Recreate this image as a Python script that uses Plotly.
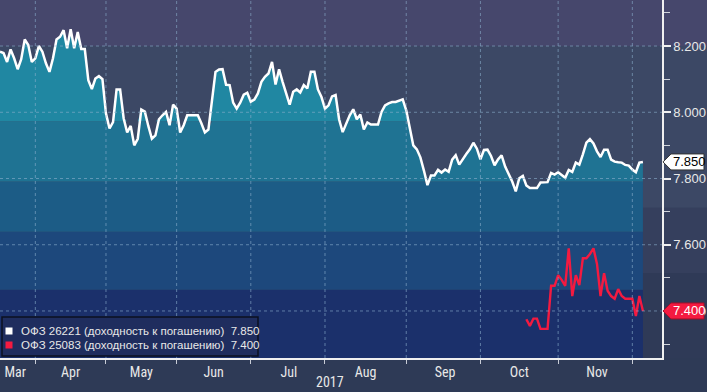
import plotly.graph_objects as go

# ---------------- data ----------------
# OFZ 26221 yield, one value per trading day (index 0 = mid-March 2017)
ofz26221 = [
    8.183, 8.179, 8.152, 8.190, 8.163, 8.130, 8.160, 8.220, 8.203, 8.152,
    8.163, 8.200, 8.183, 8.148, 8.122, 8.163, 8.220, 8.228, 8.248, 8.193,
    8.251, 8.193, 8.242, 8.191, 8.191, 8.097, 8.070, 8.102, 8.109, 8.100,
    7.996, 7.951, 7.970, 8.069, 8.069, 7.982, 7.939, 7.959, 7.900, 7.920,
    8.008, 8.002, 7.958, 7.920, 7.930, 7.979, 7.991, 8.001, 7.961, 8.023,
    8.011, 7.939, 7.961, 7.991, 7.991, 7.991, 7.991, 7.967, 7.939, 7.948,
    8.033, 8.122, 8.129, 8.130, 8.083, 8.082, 8.029, 8.011, 8.029, 8.053,
    8.059, 8.032, 8.038, 8.057, 8.092, 8.107, 8.117, 8.152, 8.084, 8.130,
    8.092, 8.057, 8.023, 8.062, 8.069, 8.060, 8.082, 8.072, 8.122, 8.122,
    8.069, 8.046, 8.011, 8.021, 8.048, 8.052, 7.978, 7.940, 7.966, 7.991,
    8.009, 7.979, 7.993, 7.948, 7.969, 7.963, 7.963, 7.963, 8.001, 8.021,
    8.027, 8.031, 8.031, 8.035, 8.039, 8.006, 7.955, 7.900, 7.888, 7.864,
    7.824, 7.780, 7.809, 7.809, 7.826, 7.818, 7.827, 7.820, 7.857, 7.870,
    7.842, 7.859, 7.874, 7.888, 7.908, 7.890, 7.858, 7.886, 7.887, 7.868,
    7.840, 7.858, 7.870, 7.836, 7.812, 7.791, 7.761, 7.801, 7.808, 7.779,
    7.771, 7.771, 7.771, 7.788, 7.789, 7.789, 7.817, 7.812, 7.819, 7.811,
    7.802, 7.826, 7.820, 7.848, 7.842, 7.873, 7.908, 7.919, 7.906, 7.882,
    7.865, 7.887, 7.887, 7.857, 7.851, 7.849, 7.848, 7.841, 7.839, 7.827,
    7.819, 7.848, 7.850,
]
# OFZ 25083 yield, starts at trading day index 149 (October)
ofz25083_start = 149
ofz25083 = [
    7.375, 7.355, 7.377, 7.377, 7.346, 7.346, 7.346, 7.476, 7.476, 7.508,
    7.494, 7.476, 7.589, 7.445, 7.508, 7.478, 7.559, 7.559, 7.572, 7.589,
    7.542, 7.445, 7.514, 7.461, 7.445, 7.437, 7.466, 7.445, 7.437, 7.437,
    7.437, 7.385, 7.445, 7.400,
]

series_names = ["ОФЗ 26221 (доходность к погашению)", "ОФЗ 25083 (доходность к погашению)"]
last_labels = ["7.850", "7.400"]

month_labels = ["Mar", "Apr", "May", "Jun", "Jul", "Aug", "Sep", "Oct", "Nov"]
month_label_pos = [4.3, 20, 40, 60.5, 81.8, 103.5, 126, 147, 169]
month_bounds = [10, 30, 50, 71, 92, 115, 136, 158, 179]
year_label = "2017"

y_ticks = [7.4, 7.6, 7.8, 8.0, 8.2]
y_tick_text = ["7.400", "7.600", "7.800", "8.000", "8.200"]
y_minor = [7.3, 7.5, 7.7, 7.9, 8.1, 8.3]
y_range = [7.258, 8.339]
x_range = [0, 187.4]

# colour bands of the area fill (value edges) and of the background
fill_edges = [7.20, 7.464, 7.639, 7.791, 7.973, 8.40]
fill_colors = ["#1b306b", "#1d487c", "#1c5c86", "#1f7393", "#2087a2"]
bg_edges = [7.0, 7.515, 7.712, 8.2, 8.6]
bg_colors = ["#2f3a57", "#353f5d", "#3c4865", "#46476c"]

WHITE = "#ffffff"
RED = "#f41a40"

# ---------------- figure ----------------
fig = go.Figure()
xs = list(range(len(ofz26221)))

for lo, hi, col in zip(fill_edges[:-1], fill_edges[1:], fill_colors):
    fig.add_trace(go.Scatter(x=xs, y=[lo] * len(xs), mode="lines",
                             line=dict(width=0), hoverinfo="skip", showlegend=False))
    fig.add_trace(go.Scatter(x=xs, y=[min(max(v, lo), hi) for v in ofz26221],
                             mode="lines", line=dict(width=0), fill="tonexty",
                             fillcolor=col, hoverinfo="skip", showlegend=False))

fig.add_trace(go.Scatter(x=xs, y=ofz26221, mode="lines",
                         line=dict(color=WHITE, width=2.5), showlegend=False,
                         name=series_names[0]))
xr = list(range(ofz25083_start, ofz25083_start + len(ofz25083)))
fig.add_trace(go.Scatter(x=xr, y=ofz25083, mode="lines",
                         line=dict(color=RED, width=2.4), showlegend=False,
                         name=series_names[1]))

shapes = []
# background bands
for lo, hi, col in zip(bg_edges[:-1], bg_edges[1:], bg_colors):
    shapes.append(dict(type="rect", xref="paper", yref="y", x0=0, x1=1.08, y0=lo, y1=hi,
                       fillcolor=col, line=dict(width=0), layer="below"))
# dotted grid lines (above the fill)
grid_col = "rgba(140,175,205,0.6)"
for v in y_ticks:
    shapes.append(dict(type="line", xref="paper", yref="y", x0=0, x1=1, y0=v, y1=v,
                       line=dict(color=grid_col, width=1, dash="dot"), layer="above"))
for b in month_bounds:
    shapes.append(dict(type="line", xref="x", yref="paper", x0=b, x1=b, y0=0, y1=1,
                       line=dict(color=grid_col, width=1, dash="dot"), layer="above"))

# last value tags
tag_path = "M 1,0 L 9,8 L 42,8 L 42,-8 L 9,-8 Z"
last_vals = [ofz26221[-1], ofz25083[-1]]
tag_fill = [WHITE, RED]
tag_line = ["#333333", "#a0102a"]
tag_text = ["#000000", WHITE]
for v, fc, lc in zip(last_vals, tag_fill, tag_line):
    shapes.append(dict(type="path", xref="paper", yref="y", xsizemode="pixel",
                       ysizemode="pixel", xanchor=1, yanchor=v, path=tag_path,
                       fillcolor=fc, line=dict(color=lc, width=1), layer="above"))

# legend box
PH = 358.0
PW = 662.0
def px(xp):
    return xp / PW
def py(yp):
    return (PH - yp) / PH
shapes.append(dict(type="rect", xref="paper", yref="paper", x0=px(2), x1=px(258),
                   y0=py(356), y1=py(317), fillcolor="#1f2d5e",
                   line=dict(color="#0c1020", width=1.5), layer="above"))
legend_rows = [331, 345]
for yy, col in zip(legend_rows, [WHITE, RED]):
    shapes.append(dict(type="rect", xref="paper", yref="paper", x0=px(5.5), x1=px(12.5),
                       y0=py(yy + 3.5), y1=py(yy - 3.5), fillcolor=col,
                       line=dict(width=0), layer="above"))

annotations = []
for yy, name, lab in zip(legend_rows, series_names, last_labels):
    annotations.append(dict(xref="paper", yref="paper", x=px(19), y=py(yy),
                            xanchor="left", yanchor="middle", showarrow=False,
                            text=name + "\u00a0\u00a0" + lab,
                            font=dict(family="Liberation Sans", size=11.5, color="#e8e8e8")))
for v, lab, tc in zip(last_vals, last_labels, tag_text):
    annotations.append(dict(xref="paper", yref="y", x=1, y=v, xanchor="left",
                            yanchor="middle", xshift=9, showarrow=False, text=lab,
                            font=dict(family="Liberation Sans", size=13, color=tc)))
annotations.append(dict(xref="paper", yref="paper", x=px(330), y=py(382),
                        xanchor="center", yanchor="middle", showarrow=False,
                        text=year_label,
                        font=dict(family="Liberation Sans Narrow, Roboto Condensed, sans-serif",
                                  size=14, color="#e8e8e8")))

fig.update_layout(
    width=707, height=392,
    margin=dict(l=0, r=45, t=0, b=34),
    paper_bgcolor="#2e3a56",
    plot_bgcolor="rgba(0,0,0,0)",
    showlegend=False,
    shapes=shapes,
    annotations=annotations,
    xaxis=dict(
        range=x_range, showgrid=False, zeroline=False,
        tickmode="array", tickvals=month_label_pos, ticktext=month_labels, ticks="",
        tickfont=dict(family="Liberation Sans Narrow, Roboto Condensed, sans-serif",
                      size=14, color="#e8e8e8"),
        showline=True, linecolor="#f0f0f0", linewidth=1.5,
        minor=dict(tickmode="array", tickvals=month_bounds, ticks="outside",
                   ticklen=4, tickcolor="#c8ccd6", tickwidth=1, showgrid=False),
    ),
    yaxis=dict(
        range=y_range, side="right", showgrid=False, zeroline=False,
        tickmode="array", tickvals=y_ticks, ticktext=y_tick_text,
        ticks="outside", ticklen=7, tickwidth=2, tickcolor="#f0f0f0",
        tickfont=dict(family="Liberation Sans", size=13, color="#e8e8e8"),
        showline=True, linecolor="#f0f0f0", linewidth=1.5,
        minor=dict(tickmode="array", tickvals=y_minor, ticks="outside",
                   ticklen=6, tickcolor="#d0d4dc", tickwidth=1, showgrid=False),
    ),
)

fig.write_html(
    "out.html",
    config={"displayModeBar": False},
    post_script="document.body.style.margin='0';document.body.style.padding='0';"
                "document.documentElement.style.overflow='hidden';",
)
